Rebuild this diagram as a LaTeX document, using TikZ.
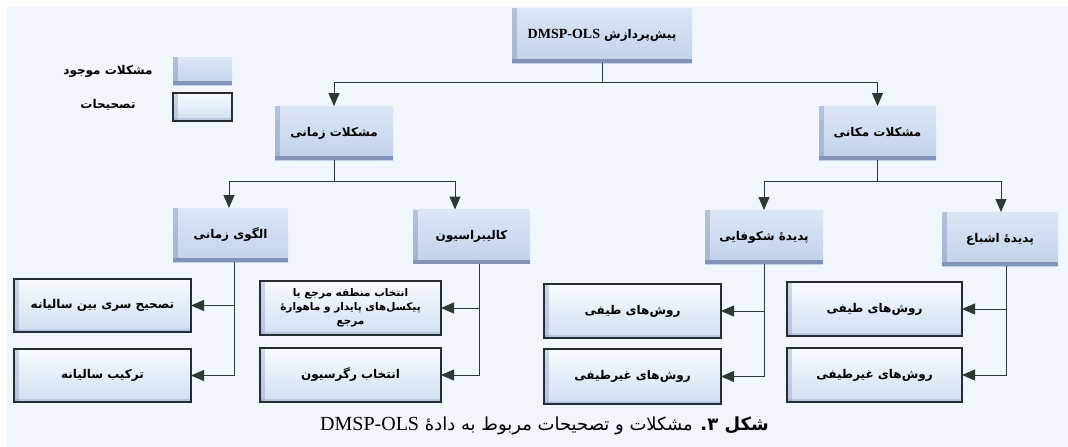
\documentclass[tikz,border=0pt]{standalone}
\usepackage{fontspec}
\newfontfamily\farsi[Script=Arabic]{DejaVu Sans}
\newfontfamily\latinserif{Liberation Serif}
\TeXXeTstate=1
\usetikzlibrary{arrows.meta,positioning}

\definecolor{bgblue}{HTML}{F0F6FC}
\definecolor{boxtop}{HTML}{DCE7F6}
\definecolor{boxbot}{HTML}{C0D2EA}
\definecolor{boxedge}{HTML}{8294B8}
\definecolor{fixtop}{HTML}{F8FBFE}
\definecolor{fixbot}{HTML}{D0DFF2}
\definecolor{fixedge}{HTML}{262C36}
\definecolor{linecol}{HTML}{2C3934}

\newcommand{\boxfont}{\farsi\bfseries\fontsize{12}{15}\selectfont}

\tikzset{
	problem/.style={rectangle,inner sep=0pt,outer sep=0pt,top color=boxtop,bottom color=boxbot,font=\boxfont,
		path picture={
			\fill [boxedge] (path picture bounding box.south west) rectangle ([yshift=4pt]path picture bounding box.south east);
			\fill [boxedge,opacity=0.45] (path picture bounding box.south west) rectangle ([xshift=5pt]path picture bounding box.north west);
		}},
	correction/.style={rectangle,inner sep=0pt,outer sep=0pt,draw=fixedge,line width=1.2pt,top color=fixtop,bottom color=fixbot,font=\boxfont,align=center,
		path picture={
			\fill [boxedge,opacity=0.35] (path picture bounding box.south west) rectangle ([xshift=5pt]path picture bounding box.north west);
			\fill [boxedge,opacity=0.3] (path picture bounding box.south west) rectangle ([yshift=3pt]path picture bounding box.south east);
		}},
	conn/.style={draw=linecol,line width=1pt,-{Triangle[width=11pt,length=13pt]}},
}

\begin{document}
\begin{tikzpicture}[x=1pt,y=-1pt]
	
	\useasboundingbox (0,0) rectangle (1068,447);
	\fill [white] (0,0) rectangle (1068,447);
	\fill [bgblue] (7,6) rectangle (1068,447);
	
	%%%%%%%%%%%%%%%%%%%%%%%%%%%%%%%%%%%%%%%%%%%%%%%%%%%%%%
	
	\node [problem,minimum width=59pt,minimum height=28pt] (legend-problem) at (202.5,71) {};
	\node [correction,minimum width=59pt,minimum height=28pt,below=8pt of legend-problem] (legend-correction) {};
	\node [font=\boxfont] (legend-problem-text) at (108,71) {\beginR مشکلات موجود\endR};
	\node [font=\boxfont] (legend-correction-text) at (108,105) {\beginR تصحیحات\endR};
	
	%%%%%%%%%%%%%%%%%%%%%%%%%%%%%%%%%%%%%%%%%%%%%%%%%%%%%%
	
	\node [problem,minimum width=180pt,minimum height=55pt] (preprocess) at (602,35.5) {\beginR پیش‌پردازش \beginL{\latinserif\bfseries\fontsize{14}{16}\selectfont DMSP-OLS}\endL\endR};
	
	\node [problem,minimum width=118pt,minimum height=54pt] (temporal) at (334,133) {\beginR مشکلات زمانی\endR};
	\node [problem,minimum width=117pt,minimum height=54pt] (spatial) at (877.5,133) {\beginR مشکلات مکانی\endR};
	
	\node [problem,minimum width=115pt,minimum height=54pt] (temporal-pattern) at (230.5,235) {\beginR الگوی زمانی\endR};
	\node [problem,minimum width=117pt,minimum height=54pt] (calibration) at (471.5,236.5) {\beginR کالیبراسیون\endR};
	\node [problem,minimum width=118pt,minimum height=54pt] (blooming) at (764,237) {\beginR پدیدهٔ شکوفایی\endR};
	\node [problem,minimum width=116pt,minimum height=54pt] (saturation) at (1000,239) {\beginR پدیدهٔ اشباع\endR};
	
	%%%%%%%%%%%%%%%%%%%%%%%%%%%%%%%%%%%%%%%%%%%%%%%%%%%%%%
	
	\node [correction,minimum width=177pt,minimum height=53pt] (interannual) at (102.5,305.5) {\beginR تصحیح سری بین سالیانه\endR};
	\node [correction,minimum width=177pt,minimum height=53pt] (composite) at (102.5,375.5) {\beginR ترکیب سالیانه\endR};
	
	\node [correction,minimum width=181pt,minimum height=54pt,font=\farsi\bfseries\fontsize{10.5}{14}\selectfont] (reference-region) at (350.5,308) {\beginR انتخاب منطقه مرجع یا\endR\\\beginR پیکسل‌های پایدار و ماهوارهٔ\endR\\\beginR مرجع\endR};
	\node [correction,minimum width=181pt,minimum height=54pt] (regression) at (350.5,375) {\beginR انتخاب رگرسیون\endR};
	
	\node [correction,minimum width=177pt,minimum height=54pt] (bloom-spectral) at (632.5,311) {\beginR روش‌های طیفی\endR};
	\node [correction,minimum width=177pt,minimum height=55pt] (bloom-nonspectral) at (632.5,376.5) {\beginR روش‌های غیرطیفی\endR};
	
	\node [correction,minimum width=175pt,minimum height=54pt] (sat-spectral) at (874.5,309) {\beginR روش‌های طیفی\endR};
	\node [correction,minimum width=175pt,minimum height=54pt] (sat-nonspectral) at (874.5,375) {\beginR روش‌های غیرطیفی\endR};
	
	%%%%%%%%%%%%%%%%%%%%%%%%%%%%%%%%%%%%%%%%%%%%%%%%%%%%%%
	
	\draw [conn] (preprocess.south) -- ++(0,19) -| (temporal.north);
	\draw [conn] (preprocess.south) -- ++(0,19) -| (spatial.north);
	
	\draw [conn] (temporal.south) -- ++(0,21) -| ([xshift=-1.5pt]temporal-pattern.north);
	\draw [conn] (temporal.south) -- ++(0,21) -| ([xshift=-16.5pt]calibration.north);
	\draw [conn] (spatial.south) -- ++(0,21) -| (blooming.north);
	\draw [conn] (spatial.south) -- ++(0,21) -| ([xshift=1pt]saturation.north);
	
	\draw [conn] ([xshift=3.5pt]temporal-pattern.south) |- (interannual.east);
	\draw [conn] ([xshift=3.5pt]temporal-pattern.south) |- (composite.east);
	\draw [conn] ([xshift=7.5pt]calibration.south) |- (reference-region.east);
	\draw [conn] ([xshift=7.5pt]calibration.south) |- (regression.east);
	\draw [conn] (blooming.south) |- (bloom-spectral.east);
	\draw [conn] (blooming.south) |- (bloom-nonspectral.east);
	\draw [conn] ([xshift=6pt]saturation.south) |- (sat-spectral.east);
	\draw [conn] ([xshift=6pt]saturation.south) |- (sat-nonspectral.east);
	
	%%%%%%%%%%%%%%%%%%%%%%%%%%%%%%%%%%%%%%%%%%%%%%%%%%%%%%
	
	\node [font=\farsi\fontsize{18}{20}\selectfont] (caption) at (544.5,426) {\beginR\textbf{شکل ۳.} مشکلات و تصحیحات مربوط به دادهٔ \beginL{\latinserif\fontsize{20}{20}\selectfont DMSP-OLS}\endL\endR};
	
\end{tikzpicture}
\end{document}
